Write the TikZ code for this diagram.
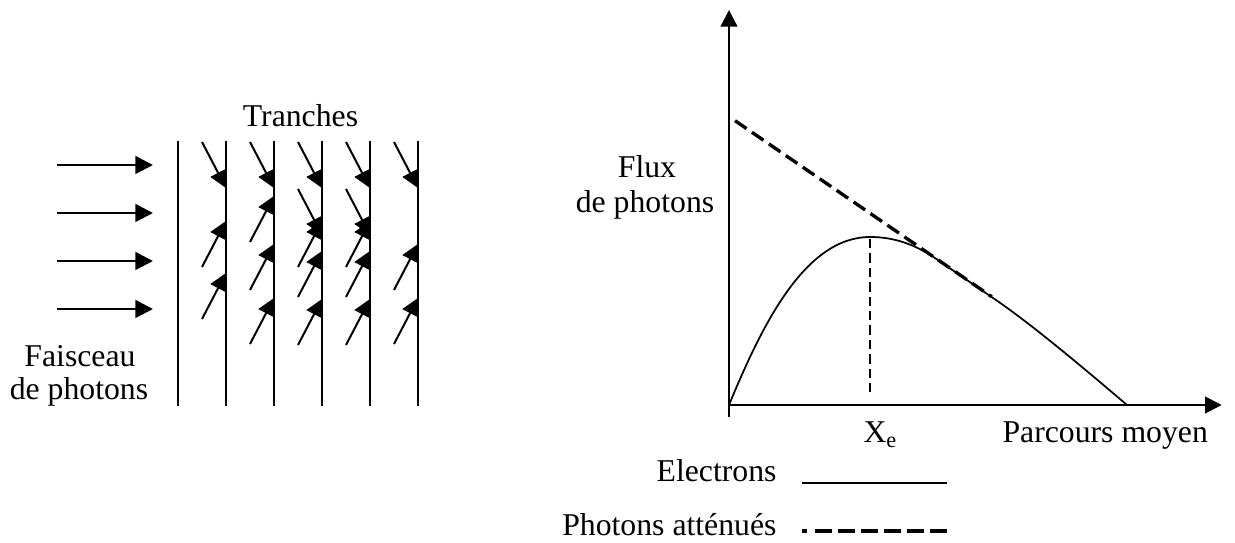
\documentclass[tikz,border=0pt]{standalone}
\usepackage{fontspec}
\setmainfont{Liberation Serif}
\usetikzlibrary{arrows.meta}
\begin{document}
\begin{tikzpicture}[x=0.375pt,y=-0.375pt,
  lbl/.style={inner sep=0pt, font=\fontsize{11.9}{14}\selectfont},
  tline/.style={line width=0.8pt},
  arr/.style={line width=0.75pt, -{Triangle[length=6.4pt,width=6.4pt]}},
  beam/.style={line width=0.85pt, -{Triangle[length=6.6pt,width=6.6pt]}},
  axis/.style={line width=0.8pt, -{Triangle[length=6.2pt,width=6.2pt]}},
  curve/.style={line width=0.65pt},
  bigdash/.style={line width=1.25pt, dash pattern=on 5.25pt off 2.45pt},
  smalldash/.style={line width=0.6pt, dash pattern=on 3.5pt off 1.9pt},
  legdash/.style={line width=1.4pt, dash pattern=on 6.4pt off 2.25pt}]
\useasboundingbox (0,0) rectangle (1235,543);

% ---- left part: beam and slices ----
\foreach \y in {165,213,261,309}
  \draw[beam] (57,\y) -- (153,\y);
\foreach \x in {178,226,274,322,370,418}
  \draw[tline] (\x,141) -- (\x,406);
% downward arrows
\foreach \x in {226,274,322,370,418}
  \draw[arr] ({\x-24},142) -- (\x,188);
\foreach \x in {322,370}
  \draw[arr] ({\x-24},189) -- (\x,235);
% upward arrows
\foreach \x/\y in {226/221,226/273,274/196,274/244,274/298,322/221,322/251,322/299,370/221,370/251,370/299,418/244,418/298}
  \draw[arr] ({\x-24},{\y+46}) -- (\x,\y);

\node[lbl,anchor=base] (tr) at (300.5,126.7) {Tranches};
\node[lbl,anchor=base] (f1) at (80,366.7) {Faisceau};
\node[lbl,anchor=base] (f2) at (79,400) {de photons};

% ---- right part: graph ----
\coordinate (O) at (729,405);
\draw[axis] (729,416.7) -- (729,10);
\draw[axis] (O) -- (1221.7,405);

\draw[bigdash] (735,120.7) -- (991.7,296.7);
\draw[curve] (O) .. controls (762,325) and (805,237) .. (870,237)
  .. controls (895,237) and (915,245) .. (933,256.7)
  -- (993,298) .. controls (1030,323) and (1080,365) .. (1127,405);
\draw[smalldash] (870,239) -- (870,397);

\node[lbl,anchor=base] (fl1) at (647,178) {Flux};
\node[lbl,anchor=base] (fl2) at (645,213) {de photons};
\node[lbl,anchor=base west] (xe) at (863,443) {X\textsubscript{e}};
\node[lbl,anchor=base west] (pm) at (1002,443) {Parcours moyen};

% ---- legend ----
\node[lbl,anchor=base east] (el) at (777,481.7) {Electrons};
\node[lbl,anchor=base east] (pa) at (777,535) {Photons atténués};
\draw[curve] (801.7,482.7) -- (946.7,482.7);
\draw[line width=1.4pt] (802,530.7) -- (807,530.7);
\draw[legdash] (815,530.7) -- (946.7,530.7);
\end{tikzpicture}
\end{document}
